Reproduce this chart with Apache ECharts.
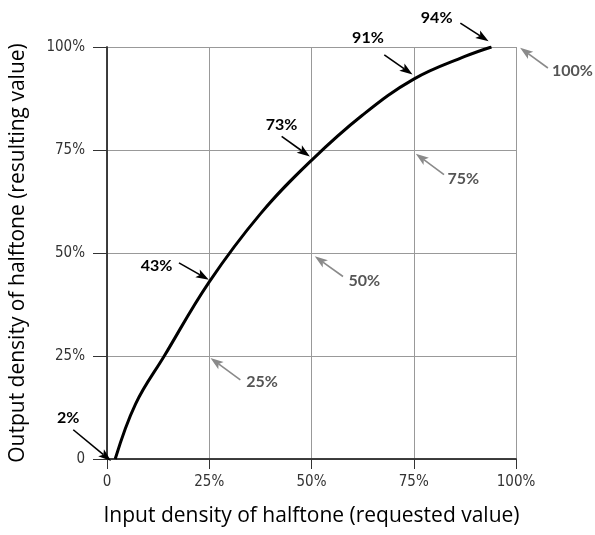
<!DOCTYPE html>
<html>
<head>
<meta charset="utf-8">
<script src="https://cdn.jsdelivr.net/npm/echarts@6/dist/echarts.min.js"></script>
<style>html,body{margin:0;padding:0;background:#fff}#c{width:595px;height:535px}</style>
</head>
<body>
<div id="c"></div>
<script>
// Curve: input density (%) -> output density (%)
const inputDensity  = [2, 7, 14, 25, 37.5, 50, 62.5, 75, 87.5, 94];
const outputDensity = [0, 13.4, 25, 43, 59.5, 72.5, 83.5, 92.2, 97.7, 100];

// Axis ticks
const tickValues = [0, 25, 50, 75, 100];
const xTickLabels = ['0', '25%', '50%', '75%', '100%'];
const yTickLabels = ['0', '25%', '50%', '75%', '100%'];

const xTitle = 'Input density of halftone (requested value)';
const yTitle = 'Output density of halftone (resulting value)';

// Callouts (data coordinates): text, tip point, tail point, label point
const calloutText  = ['2%', '43%', '73%', '91%', '94%', '25%', '50%', '75%', '100%'];
const calloutTipX  = [1, 24.9, 49.6, 74.7, 93.3, 25.3, 50.8, 75.5, 101];
const calloutTipY  = [-0.5, 43.5, 73.4, 93.3, 101.4, 24.5, 49.2, 74.1, 99.8];
const calloutTailX = [-8.25, 17.6, 42.7, 67.8, 86.4, 32.6, 57.7, 82.4, 107.8];
const calloutTailY = [7.1, 47.6, 78.3, 98.1, 105.8, 19.2, 44.3, 69, 94.9];
const calloutLabX  = [-9.5, 12.1, 42.7, 63.8, 80.6, 37.9, 62.9, 87.1, 113.8];
const calloutLabY  = [10.1, 46.9, 81.1, 102.3, 107, 18.8, 43.3, 68.0, 94.1];
const calloutKind  = ['curve','curve','curve','curve','curve','grid','grid','grid','grid'];

const chart = echarts.init(document.getElementById('c'), null, {renderer: 'canvas'});

const tickFont = {fontFamily: 'DejaVu Sans Condensed', fontSize: 15, color: '#333'};
const titleFont = {fontFamily: 'Open Sans', fontSize: 21, color: '#000'};

function tickFmt(labels){ return v => { const i = tickValues.indexOf(v); return i >= 0 ? labels[i] : ''; }; }

const callData = calloutText.map((t, i) => [calloutTailX[i], calloutTailY[i], calloutTipX[i], calloutTipY[i], calloutLabX[i], calloutLabY[i]]);

chart.setOption({
  animation: false,
  backgroundColor: '#fff',
  grid: {left: 104, right: 79, top: 47, bottom: 76, containLabel: false},
  xAxis: [{
    type: 'value', min: 0, max: 100, interval: 25,
    name: xTitle, nameLocation: 'middle', nameGap: 47,
    nameTextStyle: titleFont,
    axisLine: {show: true, onZero: false, lineStyle: {color: '#333', width: 1.5}},
    axisTick: {show: true, length: 10, lineStyle: {color: '#333', width: 1}},
    axisLabel: Object.assign({formatter: tickFmt(xTickLabels), margin: 16}, tickFont),
    splitLine: {show: true, lineStyle: {color: '#999', width: 1}}
  }, {
    type: 'value', min: 0, max: 100, position: 'top',
    axisLine: {show: true, lineStyle: {color: '#333', width: 1.5}},
    axisTick: {show: false}, axisLabel: {show: false}, splitLine: {show: false}
  }],
  yAxis: [{
    type: 'value', min: 0, max: 100, interval: 25,
    name: yTitle, nameLocation: 'middle', nameGap: 78,
    nameTextStyle: titleFont,
    axisLine: {show: true, onZero: false, lineStyle: {color: '#333', width: 1.5}},
    axisTick: {show: true, length: 14, lineStyle: {color: '#333', width: 1}},
    axisLabel: Object.assign({formatter: tickFmt(yTickLabels), margin: 22}, tickFont),
    splitLine: {show: true, lineStyle: {color: '#999', width: 1}}
  }, {
    type: 'value', min: 0, max: 100, position: 'right',
    axisLine: {show: true, lineStyle: {color: '#333', width: 1.5}},
    axisTick: {show: false}, axisLabel: {show: false}, splitLine: {show: false}
  }],
  series: [{
    type: 'line',
    data: inputDensity.map((x, i) => [x, outputDensity[i]]),
    smooth: 0.4,
    showSymbol: false,
    lineStyle: {color: '#000', width: 3},
    z: 5
  }, {
    type: 'custom',
    coordinateSystem: 'cartesian2d',
    clip: false,
    z: 10,
    data: callData,
    encode: {x: [0, 2, 4], y: [1, 3, 5]},
    renderItem: function (params, api) {
      const i = params.dataIndex;
      const tail = api.coord([api.value(0), api.value(1)]);
      const tip = api.coord([api.value(2), api.value(3)]);
      const lab = api.coord([api.value(4), api.value(5)]);
      const isCurve = calloutKind[i] === 'curve';
      const col = isCurve ? '#000' : '#8a8a8a';
      const txtCol = isCurve ? '#000' : '#555';
      const dx = tip[0] - tail[0], dy = tip[1] - tail[1];
      const len = Math.sqrt(dx * dx + dy * dy);
      const ux = dx / len, uy = dy / len, nx = -uy, ny = ux;
      const L = 13, W = 4.5;
      const bx = tip[0] - ux * L, by = tip[1] - uy * L;
      return {
        type: 'group',
        children: [{
          type: 'line',
          shape: {x1: tail[0], y1: tail[1], x2: bx + ux * 3, y2: by + uy * 3},
          style: {stroke: col, lineWidth: 1.6}
        }, {
          type: 'polygon',
          shape: {points: [tip, [bx + nx * W, by + ny * W], [bx + ux * 3, by + uy * 3], [bx - nx * W, by - ny * W]]},
          style: {fill: col}
        }, {
          type: 'text',
          x: lab[0], y: lab[1],
          style: {text: calloutText[i], fill: txtCol, font: 'bold 16px Lato', align: 'center', verticalAlign: 'middle'}
        }]
      };
    }
  }]
});
</script>
</body>
</html>
